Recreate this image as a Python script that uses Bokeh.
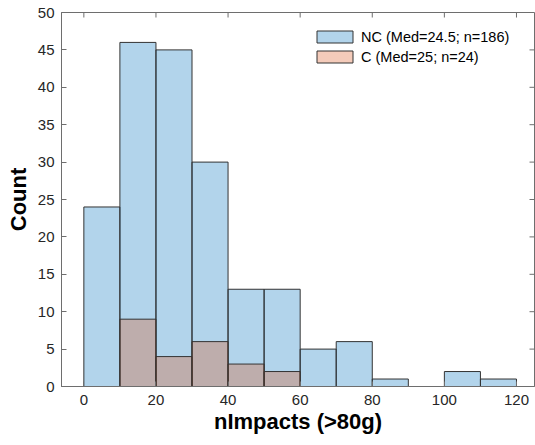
import math
from bokeh.plotting import figure
from bokeh.models import Range1d, FixedTicker, Legend, LegendItem, ColumnDataSource
from bokeh.embed import file_html
from bokeh.resources import INLINE

# ---- data ----
bin_edges = [0, 10, 20, 30, 40, 50, 60, 70, 80, 90, 100, 110, 120]
nc_counts = [24, 46, 45, 30, 13, 13, 5, 6, 1, 0, 2, 1]
c_counts = [0, 9, 4, 6, 3, 2, 0, 0, 0, 0, 0, 0]
x_ticks = [0, 20, 40, 60, 80, 100, 120]
y_ticks = [0, 5, 10, 15, 20, 25, 30, 35, 40, 45, 50]
nc_label = "NC (Med=24.5; n=186)"
c_label = "C (Med=25; n=24)"
x_title = "nImpacts (>80g)"
y_title = "Count"

FONT = "Liberation Sans"
AX = "#6e6e6e"
TXT = "#262626"

def bars(counts):
    l, r, t = [], [], []
    for i, c in enumerate(counts):
        if c > 0:
            l.append(bin_edges[i]); r.append(bin_edges[i + 1]); t.append(c)
    return ColumnDataSource(dict(left=l, right=r, top=t, bottom=[0] * len(t)))

x_lo, x_hi = -6.2, 125.0
y_lo, y_hi = 0, 50

p = figure(width=535, height=445, output_backend="svg", toolbar_location=None,
           x_range=Range1d(x_lo, x_hi), y_range=Range1d(y_lo, y_hi),
           min_border_left=61, min_border_right=1, min_border_top=12, min_border_bottom=59)
p.grid.visible = False
p.outline_line_color = AX
p.outline_line_width = 1
p.background_fill_color = "white"
p.border_fill_color = "white"

r_nc = p.quad(source=bars(nc_counts), left="left", right="right", top="top", bottom="bottom",
              fill_color="#0072BD", fill_alpha=0.3, line_color="#333333", line_width=1)
r_c = p.quad(source=bars(c_counts), left="left", right="right", top="top", bottom="bottom",
             fill_color="#D95319", fill_alpha=0.3, line_color="#333333", line_width=1)

# box ticks on top and right
p.ray(x=x_ticks, y=[y_hi] * len(x_ticks), length=5, length_units="screen",
      angle=-math.pi / 2, line_color=AX, line_width=1)
p.ray(x=[x_hi] * len(y_ticks), y=y_ticks, length=5, length_units="screen",
      angle=math.pi, line_color=AX, line_width=1)

for ax in (p.xaxis[0], p.yaxis[0]):
    ax.axis_line_color = AX
    ax.major_tick_line_color = AX
    ax.major_tick_in = 5
    ax.major_tick_out = 0
    ax.minor_tick_line_color = None
    ax.major_label_text_font = FONT
    ax.major_label_text_font_size = "15px"
    ax.major_label_text_color = TXT
    ax.axis_label_text_font = FONT
    ax.axis_label_text_font_style = "bold"
    ax.axis_label_text_font_size = "22px"
    ax.axis_label_text_color = "#000000"

p.xaxis[0].ticker = FixedTicker(ticks=x_ticks)
p.yaxis[0].ticker = FixedTicker(ticks=y_ticks)
p.xaxis[0].axis_label = x_title
p.yaxis[0].axis_label = y_title
p.xaxis[0].major_label_standoff = 8
p.yaxis[0].major_label_standoff = 7
p.xaxis[0].axis_label_standoff = 1
p.yaxis[0].axis_label_standoff = 4

legend = Legend(items=[LegendItem(label=nc_label, renderers=[r_nc]),
                       LegendItem(label=c_label, renderers=[r_c])],
                location=(251, 321), padding=0, margin=0, spacing=3,
                glyph_width=45, glyph_height=15, label_height=17, label_standoff=4,
                label_text_font=FONT, label_text_font_size="14.5px", label_text_color="#000000",
                border_line_alpha=0, background_fill_alpha=0)
p.add_layout(legend)

open("out.html", "w").write(file_html(p, INLINE))
